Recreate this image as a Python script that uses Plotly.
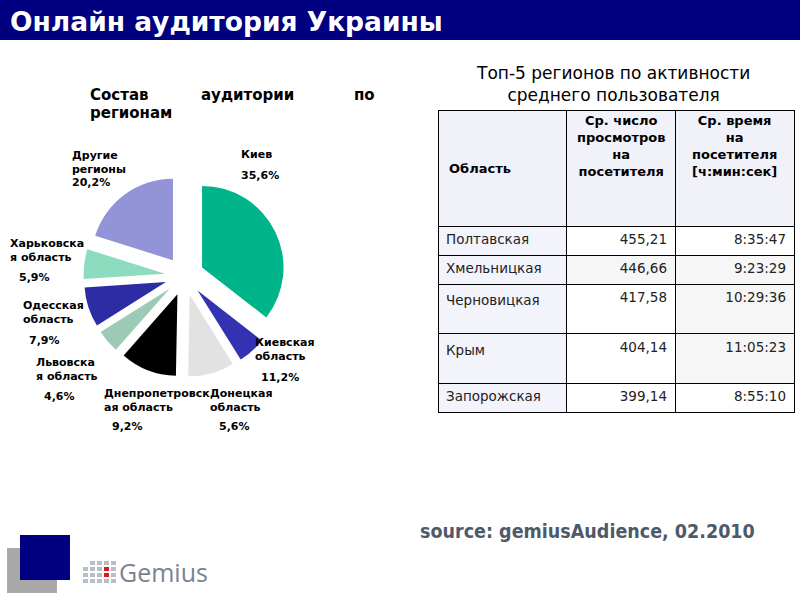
import plotly.graph_objects as go

# pie: audience composition by region (clockwise from 12 o'clock)
region_labels = ['Киев', 'Киевская<br>область', 'Донецкая<br>область',
                 'Днепропетровск<br>ая область', 'Львовска<br>я область',
                 'Одесская<br>область', 'Харьковска<br>я область', 'Другие<br>регионы']
slice_share = [35.6, 5.6, 9.2, 11.2, 4.6, 7.9, 5.9, 20.2]
pct_labels = ['35,6%', '11,2%', '5,6%', '9,2%', '4,6%', '7,9%', '5,9%', '20,2%']
slice_colors = ['#00B48A', '#3232B2', '#E2E2E2', '#000000',
                '#9CCAB4', '#2C2CA4', '#8EDCC0', '#9393D8']

# table: top-5 regions by average user activity
tbl_regions = ['Полтавская', 'Хмельницкая', 'Черновицкая', 'Крым', 'Запорожская']
tbl_views = ['455,21', '446,66', '417,58', '404,14', '399,14']
tbl_time = ['8:35:47', '9:23:29', '10:29:36', '11:05:23', '8:55:10']
tbl_header = [['Область'],
              ['Ср. число', 'просмотров', 'на', 'посетителя'],
              ['Ср. время', 'на', 'посетителя', '[ч:мин:сек]']]

W, H = 800, 600


def px(x):
    return x / W


def py(y):
    return 1 - y / H


fig = go.Figure()

fig.add_trace(go.Pie(
    values=slice_share,
    labels=[l.replace('<br>', ' ') for l in region_labels],
    sort=False,
    direction='clockwise',
    rotation=0,
    pull=[0.24] * len(slice_share),
    marker=dict(colors=slice_colors, line=dict(width=0)),
    textinfo='none',
    hoverinfo='label+percent',
    showlegend=False,
    domain=dict(x=[px(83.5), px(285.5)], y=[py(377), py(175)])
))

# tall rows 3 and 4 get an empty extra line
pad = ['', '', '<br> ', '<br> ', '']
fig.add_trace(go.Table(
    domain=dict(x=[px(438), px(794)], y=[py(416), py(110)]),
    columnwidth=[128, 109, 119],
    header=dict(
        values=['', '', ''],
        fill_color='#F1F1FA',
        line=dict(color='black', width=1),
        height=116
    ),
    cells=dict(
        values=[[r + p for r, p in zip(tbl_regions, pad)], tbl_views, tbl_time],
        align=['left', 'right', 'right'],
        fill_color=[['#F3F3FB'] * 5,
                    ['white', '#F6F6F6', 'white', 'white', 'white'],
                    ['white', '#F6F6F6', '#F6F6F6', '#F6F6F6', 'white']],
        line=dict(color='black', width=1),
        font=dict(family='DejaVu Sans', size=13.5, color='#222222'),
        height=29
    )
))

annotations = []

# header title
annotations.append(dict(x=px(8), y=py(21), text='Онлайн аудитория Украины',
                        xanchor='left', yanchor='middle', showarrow=False,
                        font=dict(family='DejaVu Sans', size=26.5, color='white', weight='bold')))

# pie subtitle (justified in the original)
sub_font = dict(family='DejaVu Sans', size=15, color='black', weight='bold')
for word, x0, y0 in [('Состав', 88, 95), ('аудитории', 199, 95), ('по', 352, 95), ('регионам', 88, 113)]:
    annotations.append(dict(x=px(x0), y=py(y0), text=word, xanchor='left', yanchor='middle',
                            showarrow=False, font=sub_font))

# pie labels
lab_font = dict(family='DejaVu Sans', size=11, color='black', weight='bold')
name_pos = [(239, 155), (253, 349), (208, 400), (102, 400), (34, 369), (21, 312), (8, 250), (70, 162)]
pct_pos = [(239, 175), (259, 377), (217, 426), (110, 426), (42, 396), (27, 340), (17, 277), (70, 182)]
for name, pct, (nx, ny), (qx, qy) in zip(region_labels, pct_labels, name_pos, pct_pos):
    annotations.append(dict(x=px(nx), y=py(ny), text=name, xanchor='left', yanchor='middle',
                            align='left', showarrow=False, font=lab_font))
    annotations.append(dict(x=px(qx), y=py(qy), text=pct, xanchor='left', yanchor='middle',
                            showarrow=False, font=lab_font))

# table title
annotations.append(dict(x=px(613), y=py(84), text='Топ-5 регионов по активности<br>среднего пользователя',
                        xanchor='center', yanchor='middle', align='center', showarrow=False,
                        font=dict(family='DejaVu Sans', size=17, color='black')))

# table header text
hdr_font = dict(family='DejaVu Sans', size=13, color='black', weight='bold')
annotations.append(dict(x=px(447), y=py(168), text=tbl_header[0][0], xanchor='left',
                        yanchor='middle', showarrow=False, font=hdr_font))
for col, cx in [(1, 620.5), (2, 734.5)]:
    annotations.append(dict(x=px(cx), y=py(146), text='<br>'.join(tbl_header[col]),
                            xanchor='center', yanchor='middle', align='center',
                            showarrow=False, font=hdr_font))

# source
annotations.append(dict(x=px(757), y=py(531), text='source: gemiusAudience, 02.2010',
                        xanchor='right', yanchor='middle', showarrow=False,
                        font=dict(family='DejaVu Sans Condensed, DejaVu Sans', size=19.5,
                                  color='#4E5A6A', weight='bold')))

# logo text
annotations.append(dict(x=px(117), y=py(572), text='Gemius', xanchor='left', yanchor='middle',
                        showarrow=False, font=dict(family='Open Sans', size=25, color='#7B8391')))

shapes = [
    dict(type='rect', xref='paper', yref='paper', x0=0, x1=1, y0=py(40), y1=1,
         fillcolor='#000080', line=dict(width=0), layer='below'),
    dict(type='rect', xref='paper', yref='paper', x0=px(7), x1=px(57), y0=py(593), y1=py(548),
         fillcolor='#A9A9A9', line=dict(width=0)),
    dict(type='rect', xref='paper', yref='paper', x0=px(20), x1=px(70), y0=py(580), y1=py(535),
         fillcolor='#000080', line=dict(width=0)),
]
# gemius grid icon
for r, y0 in enumerate([561, 567, 573, 579]):
    for c, x0 in enumerate([83, 90, 97, 104, 111]):
        if r == 0 and c == 0:
            continue
        red = (c == 3 and r in (1, 2))
        shapes.append(dict(type='rect', xref='paper', yref='paper',
                           x0=px(x0), x1=px(x0 + 5), y0=py(y0 + 4), y1=py(y0),
                           fillcolor='#E0161C' if red else '#B9BFC9', line=dict(width=0)))

fig.update_layout(
    width=W, height=H, autosize=False,
    margin=dict(l=0, r=0, t=0, b=0),
    paper_bgcolor='white', plot_bgcolor='white',
    annotations=annotations,
    shapes=shapes
)

# drop the default page margin so the figure sits at the window corner
fig.write_html("out.html", config={'displayModeBar': False},
               post_script="document.body.style.margin = '0';")
